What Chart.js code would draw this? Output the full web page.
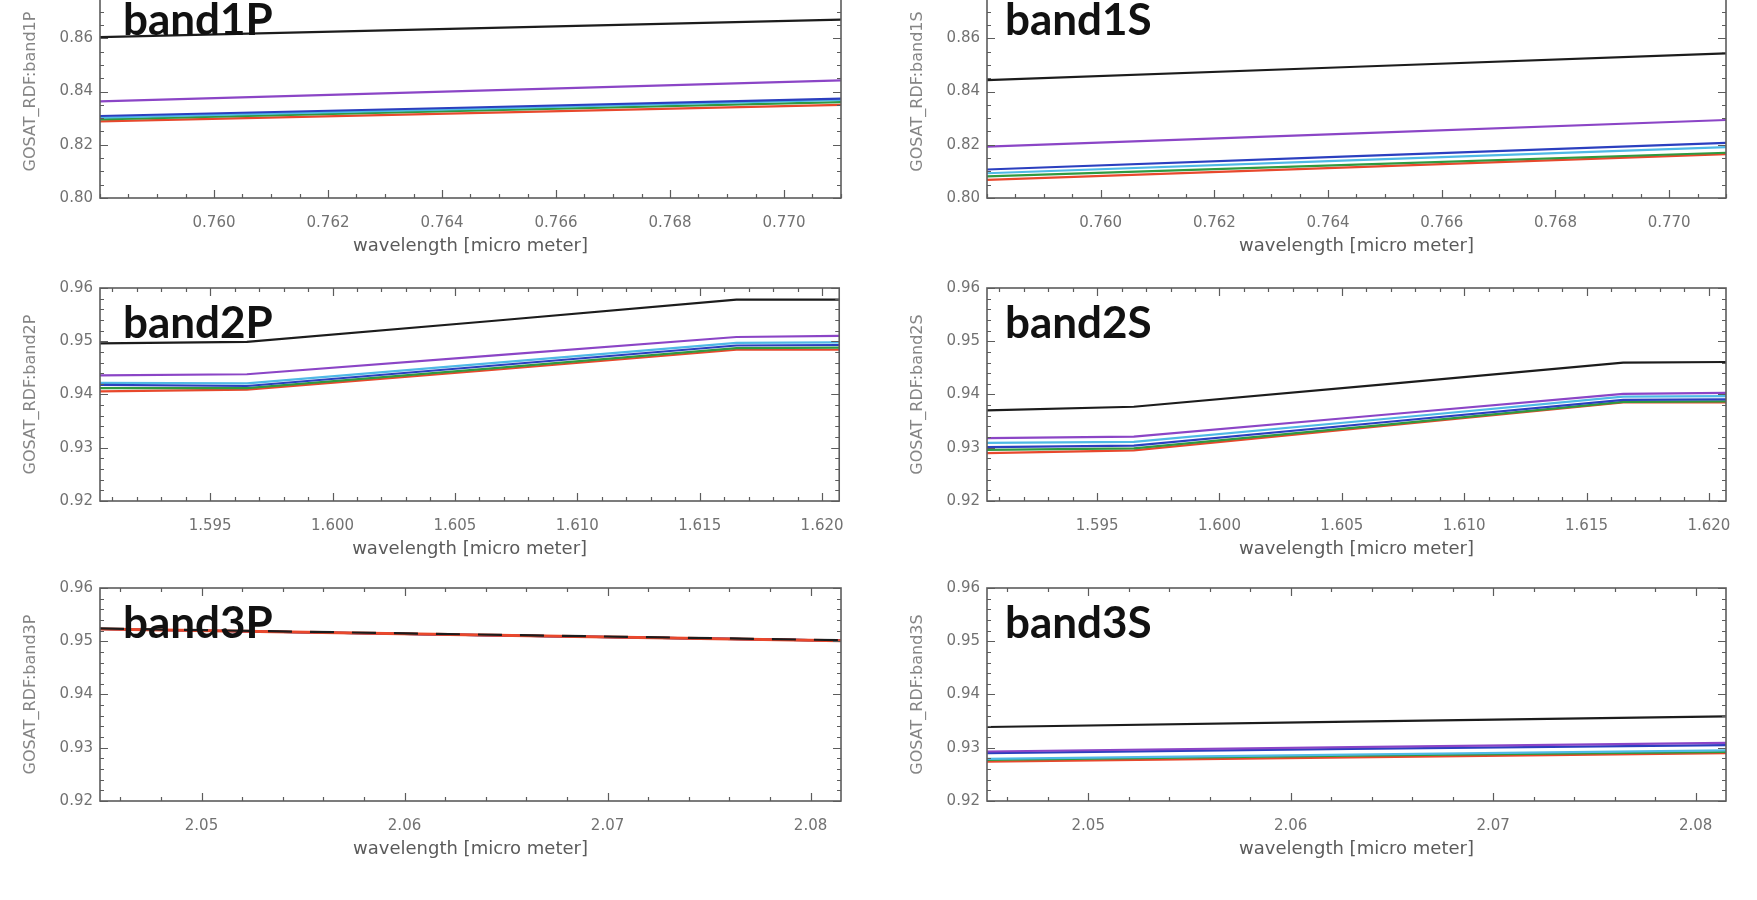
<!DOCTYPE html>
<html>
<head>
<meta charset="utf-8">
<script src="https://cdn.jsdelivr.net/npm/chart.js@4.4.1/dist/chart.umd.min.js"></script>
<style>
  html, body { margin: 0; background: #fff; overflow: hidden; width: 1757px; height: 900px; position: relative; }
  .panel { position: absolute; }
</style>
</head>
<body>
<script>
// ══════════════════════════════════════════
// DATA
// ══════════════════════════════════════════
// series order in every panel: black, purple, blue, cyan, green, red
const seriesColors = ['#1c1c1c', '#8b45c6', '#2b3fbf', '#4fb9e6', '#2f9a40', '#e8482c'];

// wavelength sample points [micro meter]
const band1Wl = [0.758, 0.7645, 0.771];
const band2Wl = [1.5905, 1.5965, 1.6065, 1.6165, 1.6207];
const band3Wl = [2.045, 2.063, 2.0815];

const band1P = [
  [0.8604, 0.8637, 0.8670],
  [0.8363, 0.8402, 0.8442],
  [0.8308, 0.8340, 0.8373],
  [0.8302, 0.8335, 0.8368],
  [0.8295, 0.8328, 0.8360],
  [0.8288, 0.8319, 0.8350],
];
const band1S = [
  [0.8443, 0.8493, 0.8543],
  [0.8193, 0.8243, 0.8293],
  [0.8107, 0.8157, 0.8207],
  [0.8093, 0.8142, 0.8191],
  [0.8081, 0.8125, 0.8170],
  [0.8068, 0.8116, 0.8165],
];
const band2P = [
  [0.9496, 0.9499, 0.9538, 0.9578, 0.9578],
  [0.9436, 0.9438, 0.9473, 0.9508, 0.9510],
  [0.9418, 0.9416, 0.9454, 0.9492, 0.9493],
  [0.9422, 0.9421, 0.9459, 0.9497, 0.9498],
  [0.9412, 0.9412, 0.9449, 0.9487, 0.9488],
  [0.9406, 0.9409, 0.9446, 0.9484, 0.9484],
];
const band2S = [
  [0.9370, 0.9377, 0.9418, 0.9460, 0.9461],
  [0.9318, 0.9321, 0.9361, 0.9401, 0.9403],
  [0.9301, 0.9304, 0.9347, 0.9390, 0.9391],
  [0.9309, 0.9311, 0.9353, 0.9396, 0.9397],
  [0.9296, 0.9299, 0.9342, 0.9386, 0.9387],
  [0.9290, 0.9295, 0.9340, 0.9385, 0.9385],
];
const band3P = [
  [0.9524, 0.9513, 0.9502],
  [0.9523, 0.9512, 0.9501],
  [0.9523, 0.9512, 0.9501],
  [0.9523, 0.9512, 0.9501],
  [0.9523, 0.9512, 0.9501],
  [0.9523, 0.9512, 0.9501],
];
const band3S = [
  [0.9339, 0.9349, 0.9359],
  [0.9293, 0.9301, 0.9309],
  [0.9290, 0.9298, 0.9305],
  [0.9279, 0.9287, 0.9295],
  [0.9277, 0.9285, 0.9292],
  [0.9274, 0.9282, 0.9290],
];

// axis ranges and major tick labels
const band1XRange = [0.758, 0.771];
const band2XRange = [1.5905, 1.6207];
const band3XRange = [2.045, 2.0815];
const band1YRange = [0.80, 0.88];
const band23YRange = [0.92, 0.96];

const band1XTicks = [0.760, 0.762, 0.764, 0.766, 0.768, 0.770];
const band2XTicks = [1.595, 1.600, 1.605, 1.610, 1.615, 1.620];
const band3XTicks = [2.05, 2.06, 2.07, 2.08];
const band1YTicks = [0.80, 0.82, 0.84, 0.86, 0.88];
const band23YTicks = [0.92, 0.93, 0.94, 0.95, 0.96];

const xTitle = 'wavelength [micro meter]';

// ══════════════════════════════════════════
// HELPERS
// ══════════════════════════════════════════
// majors (labelled) + IDL style minor ticks between them
function makeTicks(majors, nMinor, range) {
  const step = (majors[1] - majors[0]) / nMinor;
  const eps = step * 1e-3;
  const k0 = Math.floor((range[0] - majors[0]) / step);
  const k1 = Math.ceil((range[1] - majors[0]) / step);
  const out = [];
  for (let k = k0; k <= k1; k++) {
    const v = majors[0] + k * step;
    if (v < range[0] - eps || v > range[1] + eps) continue;
    out.push({ value: v, minor: !majors.some(m => Math.abs(m - v) < eps) });
  }
  return out;
}

// frame box + inward ticks on all four sides
const frameTicks = {
  id: 'frameTicks',
  afterDatasetsDraw(chart) {
    const { ctx, chartArea: a, scales: { x, y } } = chart;
    ctx.save();
    ctx.strokeStyle = '#5c5c5c';
    ctx.lineWidth = 1.6;
    ctx.strokeRect(a.left, a.top, a.right - a.left, a.bottom - a.top);
    ctx.lineWidth = 1.2;
    ctx.beginPath();
    x.ticks.forEach(t => {
      const px = Math.round(x.getPixelForValue(t.value)) + 0.5;
      const len = t.minor ? 4 : 8;
      ctx.moveTo(px, a.bottom); ctx.lineTo(px, a.bottom - len);
      ctx.moveTo(px, a.top); ctx.lineTo(px, a.top + len);
    });
    y.ticks.forEach(t => {
      const py = Math.round(y.getPixelForValue(t.value)) + 0.5;
      const len = t.minor ? 4 : 8;
      ctx.moveTo(a.left, py); ctx.lineTo(a.left + len, py);
      ctx.moveTo(a.right, py); ctx.lineTo(a.right - len, py);
    });
    ctx.stroke();
    ctx.restore();
  }
};

// big "bandXX" label in the top left of the plot
const bandLabel = {
  id: 'bandLabel',
  afterDatasetsDraw(chart, args, opts) {
    const { ctx, chartArea: a } = chart;
    ctx.save();
    ctx.font = '700 44px Lato, "Liberation Sans", sans-serif';
    ctx.fillStyle = '#111';
    ctx.textBaseline = 'alphabetic';
    ctx.fillText(opts.text, a.left + opts.dx, a.top + opts.dy);
    ctx.restore();
  }
};

// ══════════════════════════════════════════
// PANELS
// ══════════════════════════════════════════
const COLS = [
  { left: 0,   width: 860, padRight: 19, dx: 23 },
  { left: 887, width: 870, padRight: 31, dx: 18 },
];
const ROW_TOPS = [-19, 284, 584];   // chart-area tops
const PLOT_H = 217, PAD_TOP = 12, X_AXIS_H = 60, Y_AXIS_W = 100;

const panels = [
  { name: 'band1P', col: 0, row: 0, wl: band1Wl, series: band1P, xr: band1XRange, xt: band1XTicks, xm: 4, xd: 3, yr: band1YRange, yt: band1YTicks, ym: 4 },
  { name: 'band1S', col: 1, row: 0, wl: band1Wl, series: band1S, xr: band1XRange, xt: band1XTicks, xm: 4, xd: 3, yr: band1YRange, yt: band1YTicks, ym: 4 },
  { name: 'band2P', col: 0, row: 1, wl: band2Wl, series: band2P, xr: band2XRange, xt: band2XTicks, xm: 5, xd: 3, yr: band23YRange, yt: band23YTicks, ym: 5 },
  { name: 'band2S', col: 1, row: 1, wl: band2Wl, series: band2S, xr: band2XRange, xt: band2XTicks, xm: 5, xd: 3, yr: band23YRange, yt: band23YTicks, ym: 5 },
  // band3P: all curves coincide; red drawn just under a dashed black, like the original
  { name: 'band3P', col: 0, row: 2, wl: band3Wl, series: band3P, xr: band3XRange, xt: band3XTicks, xm: 5, xd: 2, yr: band23YRange, yt: band23YTicks, ym: 5, dash: [24, 18], redUp: true },
  { name: 'band3S', col: 1, row: 2, wl: band3Wl, series: band3S, xr: band3XRange, xt: band3XTicks, xm: 5, xd: 2, yr: band23YRange, yt: band23YTicks, ym: 5 },
];

const tickFont = { family: '"DejaVu Sans", sans-serif', size: 15 };
const tickColor = '#727272';

panels.forEach(p => {
  const c = COLS[p.col];
  const box = document.createElement('div');
  box.className = 'panel';
  box.style.left = c.left + 'px';
  box.style.top = (ROW_TOPS[p.row] - PAD_TOP) + 'px';
  box.style.width = c.width + 'px';
  box.style.height = (PAD_TOP + PLOT_H + X_AXIS_H) + 'px';
  const cv = document.createElement('canvas');
  box.appendChild(cv);
  document.body.appendChild(box);

  const last = p.series.length - 1;
  new Chart(cv, {
    type: 'line',
    data: {
      datasets: p.series.map((ys, i) => ({
        data: ys.map((y, j) => ({ x: p.wl[j], y })),
        borderColor: seriesColors[i],
        borderWidth: (p.redUp && i === last) ? 3 : 2.2,
        borderDash: (p.dash && i === 0) ? p.dash : [],
        order: (p.redUp && i === last) ? 0.5 : i,
        pointRadius: 0,
        tension: 0,
        fill: false,
      }))
    },
    options: {
      responsive: true, maintainAspectRatio: false, animation: false,
      layout: { padding: { top: PAD_TOP, right: c.padRight, left: 0, bottom: 0 } },
      plugins: {
        legend: { display: false }, tooltip: { enabled: false },
        bandLabel: { text: p.name, dx: c.dx, dy: 50 },
      },
      scales: {
        x: {
          type: 'linear', min: p.xr[0], max: p.xr[1],
          grid: { display: false, drawTicks: false }, border: { display: false },
          afterBuildTicks: s => { s.ticks = makeTicks(p.xt, p.xm, p.xr); },
          afterFit: s => { s.height = X_AXIS_H; },
          ticks: { autoSkip: false, maxRotation: 0, padding: 16, color: tickColor, font: tickFont,
                   callback: (v, i, t) => t[i].minor ? '' : v.toFixed(p.xd) },
          title: { display: true, text: xTitle, color: '#5a5a5a',
                   font: { family: '"DejaVu Sans", sans-serif', size: 18 }, padding: { top: 0, bottom: 1 } },
        },
        y: {
          type: 'linear', min: p.yr[0], max: p.yr[1],
          grid: { display: false, drawTicks: false }, border: { display: false },
          afterBuildTicks: s => { s.ticks = makeTicks(p.yt, p.ym, p.yr); },
          afterFit: s => { s.width = Y_AXIS_W; },
          ticks: { autoSkip: false, padding: 7, color: tickColor, font: tickFont,
                   callback: (v, i, t) => t[i].minor ? '' : v.toFixed(2) },
          title: { display: true, text: 'GOSAT_RDF:' + p.name, color: '#858585',
                   font: { family: '"DejaVu Sans", sans-serif', size: 16 }, padding: { top: 21, bottom: 0 } },
        }
      }
    },
    plugins: [frameTicks, bandLabel]
  });
});
</script>
</body>
</html>
